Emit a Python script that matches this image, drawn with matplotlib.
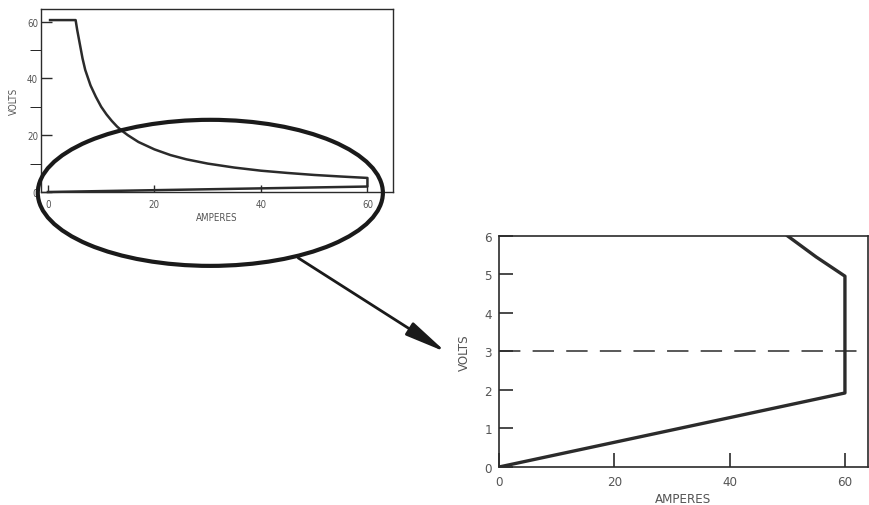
import matplotlib
matplotlib.use("Agg")
import matplotlib.pyplot as plt
from matplotlib.patches import Ellipse, ConnectionPatch

plt.rcParams['font.family'] = ['DejaVu Sans']
plt.rcParams['font.stretch'] = 'condensed'

# volt-ampere curve
amps = [0.4, 5.2, 5.5, 6.0, 6.5, 7.0, 8.0, 9.0, 10.0, 11.0, 12.0, 13.0, 14.0,
        15.0, 17.0, 20.0, 23.0, 26.0, 30.0, 35.0, 40.0, 45.0, 50.0, 55.0,
        60.0, 60.0, 0.0]
volts = [60.5, 60.5, 57.0, 52.0, 47.0, 43.0, 37.5, 33.5, 30.0, 27.3, 25.0,
         23.0, 21.4, 20.0, 17.6, 15.0, 13.0, 11.5, 10.0, 8.6, 7.5, 6.7, 6.0,
         5.45, 4.95, 1.92, 0.0]
dash_volts = 3.0

xticks = [0, 20, 40, 60]
top_yticks = [0, 20, 40, 60]
top_minor = [10, 30, 50]
zoom_yticks = [0, 1, 2, 3, 4, 5, 6]

INK = '#2b2b2b'
GREY = '#555555'

fig = plt.figure(figsize=(8.69, 5.06), dpi=100)

# ---- overview chart (top left) ----
ax1 = fig.add_axes([41/869, 1 - 193/506, 352/869, 183/506])
ax1.plot(amps, volts, color=INK, lw=1.8, clip_on=False, solid_joinstyle='round')
ax1.set_xlim(-1.3, 64.8)
ax1.set_ylim(0, 64.4)
ax1.set_xticks(xticks)
ax1.set_yticks(top_yticks)
ax1.set_yticks(top_minor, minor=True)
ax1.tick_params(axis='both', direction='in', colors=INK, labelcolor=GREY,
                labelsize=7, width=1)
ax1.tick_params(axis='y', which='both', length=8, pad=2)
ax1.tick_params(axis='x', length=5, pad=5)
ax1.set_xlabel('AMPERES', fontsize=7, color=GREY, labelpad=2)
ax1.set_ylabel('VOLTS', fontsize=7, color=GREY, labelpad=6)
for s in ax1.spines.values():
    s.set_color(INK)
    s.set_linewidth(1)

# ellipse around the low-voltage region
ax1.add_patch(Ellipse((30.5, -0.3), 64.8, 51.4, fill=False, ec='#1a1a1a',
                      lw=3, clip_on=False, zorder=5))

# ---- detail chart (bottom right) ----
ax2 = fig.add_axes([499/869, 1 - 468/506, 369/869, 231.3/506])
ax2.plot(amps, volts, color=INK, lw=2.4)
ax2.axhline(dash_volts, color=INK, lw=1.1, dashes=(14, 8))
ax2.set_xlim(0, 64)
ax2.set_ylim(0, 6)
ax2.set_xticks(xticks)
ax2.set_yticks(zoom_yticks)
ax2.tick_params(axis='both', direction='in', length=10, width=1.2, colors=INK,
                labelcolor=GREY, labelsize=9.5)
ax2.tick_params(axis='y', pad=5)
ax2.tick_params(axis='x', pad=6)
ax2.set_xlabel('AMPERES', fontsize=9.5, color=GREY, labelpad=3)
ax2.set_ylabel('VOLTS', fontsize=9.5, color=GREY, labelpad=10)
for s in ax2.spines.values():
    s.set_color(INK)
    s.set_linewidth(1.2)

# arrow from the ellipse to the detail chart
arrow = ConnectionPatch(xyA=(47, -23.2), coordsA=ax1.transData,
                        xyB=(-9.2, 2.98), coordsB=ax2.transData,
                        arrowstyle='-|>,head_length=0.9,head_width=0.16',
                        mutation_scale=28, lw=2,
                        color='#1a1a1a', shrinkA=0, shrinkB=0)
fig.add_artist(arrow)

fig.savefig('out.png', dpi=100)
